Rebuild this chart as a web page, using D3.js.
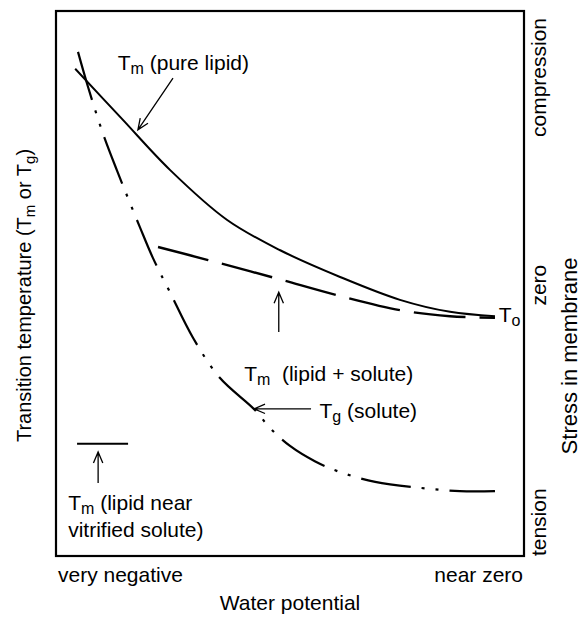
<!DOCTYPE html>
<html>
<head>
<meta charset="utf-8">
<script src="https://cdn.jsdelivr.net/npm/d3@7/dist/d3.min.js"></script>
<style>
body { margin: 0; background: #fff; }
text { font-family: "Liberation Sans", Arial, Helvetica, sans-serif; fill: #000; white-space: pre; }
</style>
</head>
<body>
<div id="chart"></div>
<script>
// water potential (0 = very negative .. 100 = near zero) against
// transition temperature in relative units (0 .. 100)
var pureLipidX = [4.1, 14.1, 24.4, 36.5, 47.9, 60.7, 73.5, 84.2, 93.8];
var pureLipidY = [89.4, 80.2, 70.8, 61.7, 56.1, 51.2, 47.0, 44.8, 44.0];

var lipidSoluteX = [21.8, 32.5, 46.8, 60.7, 73.5, 84.2, 93.8];
var lipidSoluteY = [56.7, 54.3, 51.0, 47.7, 45.1, 44.0, 43.7];

var soluteTgX = [4.7, 6.8, 10.0, 13.0, 17.9, 20.7, 24.4, 29.3, 35.0, 42.5, 45.7, 50.0, 55.3, 60.7, 68.2, 77.8, 86.3, 93.8];
var soluteTgY = [92.5, 86.2, 77.6, 70.8, 60.4, 54.7, 48.3, 40.0, 32.7, 26.8, 23.5, 20.2, 17.4, 15.4, 13.6, 12.5, 11.9, 11.9];

var vitrifiedX = [4.5, 15.4];
var vitrifiedY = [20.6, 20.6];

var xTickLabels = ['very negative', 'near zero'];
var stressLabels = ['tension', 'zero', 'compression'];
var stressTicks = [6.2, 49.7, 87.8];

// set margin, width and height of the graph
var margin = {top: 11, right: 62, bottom: 62, left: 56},
    width = 586 - margin.left - margin.right,
    height = 618 - margin.top - margin.bottom;

var svg = d3.select('#chart')
    .append('svg')
    .attr('width', 586)
    .attr('height', 618)
    .append('g')
    .attr('transform', 'translate(' + margin.left + ',' + margin.top + ')');

var x = d3.scaleLinear().domain([0, 100]).range([0, width]);
var y = d3.scaleLinear().domain([0, 100]).range([height, 0]);

function pts(xs, ys) {
    return xs.map(function(v, i) { return [v, ys[i]]; });
}

var line = d3.line()
    .x(function(d) { return x(d[0]); })
    .y(function(d) { return y(d[1]); })
    .curve(d3.curveCatmullRom.alpha(0.5));

// frame
svg.append('rect')
    .attr('width', width)
    .attr('height', height)
    .attr('fill', 'none')
    .attr('stroke', '#000')
    .attr('stroke-width', 2.2);

// curves
svg.append('path')
    .attr('d', line(pts(pureLipidX, pureLipidY)))
    .attr('fill', 'none')
    .attr('stroke', '#000')
    .attr('stroke-width', 2);

svg.append('path')
    .attr('d', line(pts(lipidSoluteX, lipidSoluteY)))
    .attr('fill', 'none')
    .attr('stroke', '#000')
    .attr('stroke-width', 2.4)
    .attr('stroke-dasharray', '52,14');

svg.append('path')
    .attr('d', line(pts(soluteTgX, soluteTgY)))
    .attr('fill', 'none')
    .attr('stroke', '#000')
    .attr('stroke-width', 2.2)
    .attr('stroke-dasharray', '50,11,3,11,3,11');

svg.append('path')
    .attr('d', d3.line().x(function(d) { return x(d[0]); }).y(function(d) { return y(d[1]); })(pts(vitrifiedX, vitrifiedY)))
    .attr('fill', 'none')
    .attr('stroke', '#000')
    .attr('stroke-width', 2.2);

// open arrow from (x1,y1) to the tip at (x2,y2), data units
function arrow(x1, y1, x2, y2) {
    var X1 = x(x1), Y1 = y(y1), X2 = x(x2), Y2 = y(y2);
    var a = Math.atan2(Y2 - Y1, X2 - X1), len = 12, spread = 0.4;
    var p = d3.path();
    p.moveTo(X1, Y1);
    p.lineTo(X2, Y2);
    p.moveTo(X2 - len * Math.cos(a - spread), Y2 - len * Math.sin(a - spread));
    p.lineTo(X2, Y2);
    p.lineTo(X2 - len * Math.cos(a + spread), Y2 - len * Math.sin(a + spread));
    svg.append('path')
        .attr('d', p.toString())
        .attr('fill', 'none')
        .attr('stroke', '#000')
        .attr('stroke-width', 1.3);
}

// label with a subscript: main + sub + rest
function label(xv, yv, main, sub, rest) {
    var t = svg.append('text')
        .attr('x', x(xv))
        .attr('y', y(yv))
        .style('font-size', '21px');
    t.append('tspan').text(main);
    t.append('tspan').attr('dy', 4).style('font-size', '16px').text(sub);
    if (rest) t.append('tspan').attr('dy', -4).text(rest);
    return t;
}

arrow(25.0, 87.7, 17.5, 78.2);
label(13.2, 89.2, 'T', 'm', ' (pure lipid)');

arrow(47.6, 41.1, 47.6, 48.4);
label(40.2, 32.2, 'T', 'm', '  (lipid + solute)');

arrow(54.5, 27.0, 42.3, 27.0);
label(56.3, 25.4, 'T', 'g', ' (solute)');

label(94.6, 43.0, 'T', 'o', null);

arrow(9.0, 13.4, 9.0, 19.1);
label(2.6, 8.4, 'T', 'm', ' (lipid near');
svg.append('text')
    .attr('x', x(2.6))
    .attr('y', y(3.5))
    .style('font-size', '21px')
    .text('vitrified solute)');

// bottom axis labels
svg.append('text')
    .attr('x', 2)
    .attr('y', height + 26)
    .style('font-size', '21px')
    .text(xTickLabels[0]);
svg.append('text')
    .attr('x', width - 1)
    .attr('y', height + 26)
    .attr('text-anchor', 'end')
    .style('font-size', '21px')
    .text(xTickLabels[1]);
svg.append('text')
    .attr('x', width / 2)
    .attr('y', height + 54)
    .attr('text-anchor', 'middle')
    .style('font-size', '21px')
    .text('Water potential');

// left axis title
var ly = svg.append('text')
    .attr('transform', 'translate(-25,' + (height / 2 + 12) + ') rotate(-90)')
    .attr('text-anchor', 'middle')
    .style('font-size', '20px');
ly.append('tspan').text('Transition temperature (T');
ly.append('tspan').attr('dy', 4).style('font-size', '15px').text('m');
ly.append('tspan').attr('dy', -4).text(' or T');
ly.append('tspan').attr('dy', 4).style('font-size', '15px').text('g');
ly.append('tspan').attr('dy', -4).text(')');

// right axis: stress in membrane
svg.selectAll('.stress')
    .data(stressLabels)
    .enter()
    .append('text')
    .attr('class', 'stress')
    .attr('transform', function(d, i) {
        return 'translate(' + (width + 22) + ',' + y(stressTicks[i]) + ') rotate(-90)';
    })
    .attr('text-anchor', 'middle')
    .style('font-size', '21px')
    .text(function(d) { return d; });

svg.append('text')
    .attr('transform', 'translate(' + (width + 53) + ',' + y(36.7) + ') rotate(-90)')
    .attr('text-anchor', 'middle')
    .style('font-size', '22px')
    .text('Stress in membrane');
</script>
</body>
</html>
